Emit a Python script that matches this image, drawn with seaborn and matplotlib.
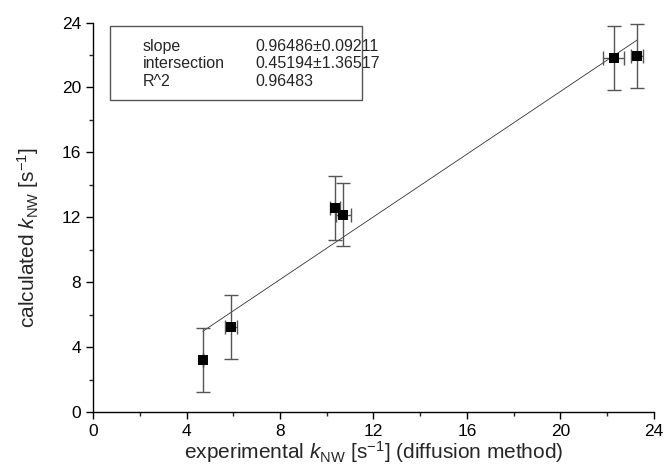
#!/usr/bin/env python3
"""Calculated vs experimental k_NW with linear fit."""

import matplotlib.pyplot as plt
import numpy as np
import pandas as pd
import seaborn as sns

# data
exp_k = [4.70, 5.89, 10.37, 10.72, 22.28, 23.29]
exp_k_err = [0.0, 0.26, 0.22, 0.33, 0.45, 0.26]
calc_k = [3.22, 5.25, 12.55, 12.16, 21.82, 21.95]
calc_k_err = [1.95, 1.97, 1.97, 1.93, 1.96, 1.96]

fit_slope = 0.96486
fit_intercept = 0.45194
fit_labels = ["slope", "intersection", "R^2"]
fit_values = ["0.96486\u00b10.09211", "0.45194\u00b11.36517", "0.96483"]

x_ticks = [0, 4, 8, 12, 16, 20, 24]
y_ticks = [0, 4, 8, 12, 16, 20, 24]

df = pd.DataFrame({"x": exp_k, "y": calc_k, "xerr": exp_k_err, "yerr": calc_k_err})

sns.set_style("ticks")
plt.rcParams["font.family"] = ["Liberation Sans", "DejaVu Sans"]
plt.rcParams["mathtext.fontset"] = "custom"
plt.rcParams["mathtext.it"] = "Liberation Sans:italic"
plt.rcParams["mathtext.rm"] = "Liberation Sans"

fig = plt.figure(figsize=(6.65, 4.70), dpi=100)
ax = fig.add_axes([0.140, 0.123, 0.843, 0.829])

# fit line across the data range
fx = np.array([min(exp_k), max(exp_k)])
fit_df = pd.DataFrame({"x": fx, "y": fit_slope * fx + fit_intercept})
sns.lineplot(data=fit_df, x="x", y="y", ax=ax, color="#333333", linewidth=0.6, zorder=2)

ax.errorbar(df["x"], df["y"], xerr=df["xerr"], yerr=df["yerr"], fmt="none",
            ecolor="#555555", elinewidth=1.0, capsize=5, capthick=1.0, zorder=3)
sns.scatterplot(data=df, x="x", y="y", ax=ax, marker="s", s=55, color="black",
                edgecolor="black", linewidth=0, zorder=4)

ax.set_xlim(0, 24)
ax.set_ylim(0, 24)
ax.set_xticks(x_ticks)
ax.set_yticks(y_ticks)
ax.set_xticks(np.arange(2, 24, 4), minor=True)
ax.set_yticks(np.arange(2, 24, 4), minor=True)
ax.tick_params(axis="both", which="major", direction="out", length=5, width=1,
               labelsize=12.5, colors="black")
ax.tick_params(axis="both", which="minor", direction="out", length=3, width=1)

for side in ("top", "right"):
    ax.spines[side].set_visible(False)
for side in ("left", "bottom"):
    ax.spines[side].set_linewidth(1.0)
    ax.spines[side].set_color("black")

ax.set_xlabel(r"experimental $k_{\mathrm{NW}}$ [s$^{\mathrm{-1}}$] (diffusion method)",
              fontsize=15, labelpad=0)
ax.set_ylabel(r"calculated $k_{\mathrm{NW}}$ [s$^{\mathrm{-1}}$]", fontsize=15)
ax.yaxis.set_label_coords(-0.093, 0.449)

# fit parameter box
box = plt.Rectangle((0.030, 0.80), 0.45, 0.19, transform=ax.transAxes,
                    facecolor="white", edgecolor="#555555", linewidth=1.0, zorder=5)
ax.add_patch(box)
for i, (lab, val) in enumerate(zip(fit_labels, fit_values)):
    yy = 0.938 - i * 0.044
    ax.text(0.089, yy, lab, transform=ax.transAxes, fontsize=11.5, va="center", zorder=6)
    ax.text(0.290, yy, val, transform=ax.transAxes, fontsize=11.5, va="center", zorder=6)

fig.savefig("out.png", dpi=100)
